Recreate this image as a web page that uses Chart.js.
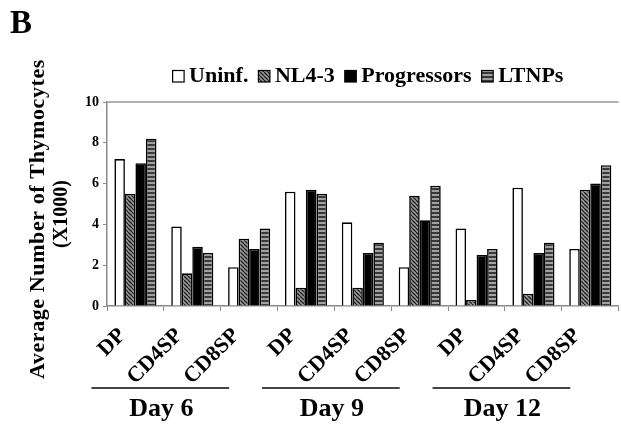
<!DOCTYPE html>
<html>
<head>
<meta charset="utf-8">
<script src="https://cdn.jsdelivr.net/npm/chart.js@4/dist/chart.umd.min.js"></script>
<style>
  html, body { margin: 0; padding: 0; background: #fff; }
  #wrap { width: 621px; height: 427px; position: relative; }
</style>
</head>
<body>
<div id="wrap"><canvas id="c" width="621" height="427"></canvas></div>
<script>
// Cell subsets, three per harvest day
const categories = ['DP', 'CD4SP', 'CD8SP', 'DP', 'CD4SP', 'CD8SP', 'DP', 'CD4SP', 'CD8SP'];
const days = ['Day 6', 'Day 9', 'Day 12'];
const seriesNames = ['Uninf.', 'NL4-3', 'Progressors', 'LTNPs'];

// Average number of thymocytes (x1000)
const uninf       = [7.2, 3.9, 1.9, 5.6, 4.1, 1.9, 3.8, 5.8, 2.8];
const nl43        = [5.5, 1.6, 3.3, 0.9, 0.9, 5.4, 0.3, 0.6, 5.7];
const progressors = [7.0, 2.9, 2.8, 5.7, 2.6, 4.2, 2.5, 2.6, 6.0];
const ltnps       = [8.2, 2.6, 3.8, 5.5, 3.1, 5.9, 2.8, 3.1, 6.9];

const yTicks = [0, 2, 4, 6, 8, 10];
const yTitle = ['Average Number of Thymocytes', '(X1000)'];

const SERIF = '"Liberation Serif", "Times New Roman", serif';

// Fill patterns
function makePattern(draw, w, h) {
  const c = document.createElement('canvas');
  c.width = w; c.height = h;
  draw(c.getContext('2d'), w, h);
  return c.getContext('2d').createPattern(c, 'repeat');
}
const diagHatch = makePattern((g, w, h) => {
  g.fillStyle = '#9a9a9a'; g.fillRect(0, 0, w, h);
  g.strokeStyle = '#202020'; g.lineWidth = 1.3;
  for (let k = -w; k <= w; k += w) {
    g.beginPath(); g.moveTo(k, 0); g.lineTo(k + w, h); g.stroke();
  }
}, 4, 4);
const hStripes = makePattern((g, w, h) => {
  g.fillStyle = '#a0a0a0'; g.fillRect(0, 0, w, h);
  g.fillStyle = '#383838'; g.fillRect(0, 0, w, 2);
}, 4, 4);

const fills = ['#ffffff', diagHatch, '#000000', hStripes];
const values = [uninf, nl43, progressors, ltnps];

const datasets = seriesNames.map((name, i) => ({
  label: name,
  data: values[i],
  backgroundColor: fills[i],
  borderColor: '#000',
  borderWidth: 1.6,
  categoryPercentage: 0.74,
  barPercentage: 1.0
}));

const decor = {
  id: 'decor',
  afterDraw(chart) {
    const { ctx, chartArea: a, scales: { x } } = chart;
    ctx.save();
    ctx.fillStyle = '#000';

    // panel letter
    ctx.font = 'bold 33px ' + SERIF;
    ctx.textAlign = 'left';
    ctx.textBaseline = 'alphabetic';
    ctx.fillText('B', 10, 33);

    // top frame line of the plot area
    ctx.strokeStyle = '#9a9a9a';
    ctx.lineWidth = 1.5;
    ctx.beginPath(); ctx.moveTo(a.left, a.top); ctx.lineTo(a.right, a.top); ctx.stroke();

    // y-axis title, two lines
    const midY = 219;
    ctx.textAlign = 'center';
    ctx.save();
    ctx.translate(44, midY); ctx.rotate(-Math.PI / 2);
    ctx.font = 'bold 22px ' + SERIF;
    ctx.letterSpacing = '0.6px';
    ctx.fillText(yTitle[0], 0, 0);
    ctx.restore();
    ctx.save();
    ctx.translate(67, midY - 5); ctx.rotate(-Math.PI / 2);
    ctx.font = 'bold 20px ' + SERIF;
    ctx.fillText(yTitle[1], 0, 0);
    ctx.restore();

    // legend
    ctx.font = 'bold 22px ' + SERIF;
    ctx.textAlign = 'left';
    const box = 11.5, gapBox = 5, gapItem = 10, base = 82;
    const widths = seriesNames.map(n => ctx.measureText(n).width);
    const total = widths.reduce((s, w) => s + w, 0) + seriesNames.length * (box + gapBox) + (seriesNames.length - 1) * gapItem;
    let lx = 368 - total / 2;
    seriesNames.forEach((n, i) => {
      ctx.fillStyle = fills[i];
      ctx.fillRect(lx, base - box, box, box);
      ctx.strokeStyle = '#000'; ctx.lineWidth = 1.2;
      ctx.strokeRect(lx, base - box, box, box);
      ctx.fillStyle = '#000';
      ctx.fillText(n, lx + box + gapBox, base);
      lx += box + gapBox + widths[i] + gapItem;
    });

    // day group brackets
    ctx.font = 'bold 26px ' + SERIF;
    ctx.textAlign = 'center';
    days.forEach((d, i) => {
      const x1 = x.getPixelForValue(i * 3) - 44;
      const x2 = x.getPixelForValue(i * 3 + 2) - 20;
      ctx.strokeStyle = '#444'; ctx.lineWidth = 2;
      ctx.beginPath(); ctx.moveTo(x1, 388); ctx.lineTo(x2, 388); ctx.stroke();
      ctx.fillStyle = '#000';
      ctx.fillText(d, (x1 + x2) / 2 + 1, 416);
    });
    ctx.restore();
  }
};

new Chart(document.getElementById('c'), {
  type: 'bar',
  data: { labels: categories, datasets },
  options: {
    responsive: false,
    animation: false,
    devicePixelRatio: 1,
    layout: { padding: { top: 102, right: 1, bottom: 0, left: 0 } },
    plugins: { legend: { display: false }, tooltip: { enabled: false } },
    scales: {
      x: {
        afterFit: s => { s.height = 121; },
        grid: { offset: true, drawOnChartArea: false, drawTicks: true, tickLength: 5, color: '#8a8a8a' },
        border: { display: true, color: '#8a8a8a', width: 1.5 },
        ticks: {
          autoSkip: false, maxRotation: 45, minRotation: 45,
          labelOffset: -13, padding: 12,
          color: '#000', font: { family: SERIF, size: 22, weight: 'bold' }
        }
      },
      y: {
        min: 0, max: 10,
        afterFit: s => { s.width = 107; },
        afterBuildTicks: s => { s.ticks = yTicks.map(v => ({ value: v })); },
        grid: { drawOnChartArea: false, drawTicks: true, tickLength: 4, color: '#8a8a8a' },
        border: { display: true, color: '#8a8a8a', width: 1.5 },
        ticks: { padding: 4, color: '#000', font: { family: SERIF, size: 14, weight: 'bold' } }
      }
    }
  },
  plugins: [decor]
});
</script>
</body>
</html>
